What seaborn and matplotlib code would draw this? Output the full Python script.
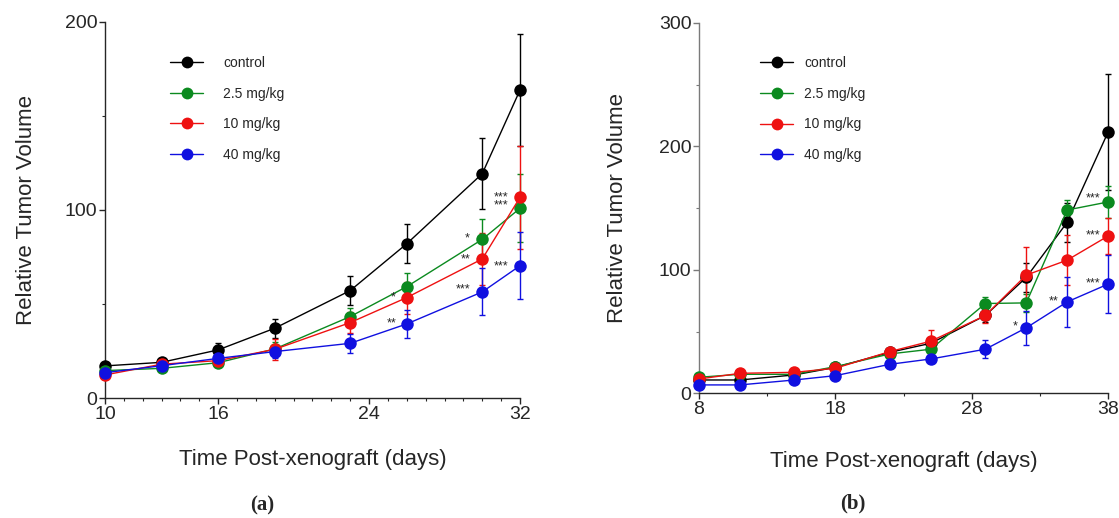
import numpy as np
import pandas as pd
import matplotlib
matplotlib.use("Agg")
import matplotlib.pyplot as plt
from matplotlib.ticker import MultipleLocator, FixedLocator
import seaborn as sns

# datos (a)
days_a = [10, 13, 16, 19, 23, 26, 30, 32]
control_a = [17.2, 19.1, 25.7, 37.2, 57.2, 82.1, 119.3, 163.7]
control_a_err = [1.5, 1.5, 3.5, 5.0, 7.8, 10.4, 19.0, 29.6]
dose25_a = [14.7, 15.9, 18.9, 26.2, 43.4, 59.3, 84.4, 100.9]
dose25_a_err = [1.5, 2.0, 2.0, 3.5, 4.5, 7.0, 10.6, 18.0]
dose10_a = [12.4, 18.1, 20.0, 26.0, 40.2, 53.5, 74.0, 106.7]
dose10_a_err = [1.5, 2.0, 2.5, 5.5, 5.5, 8.5, 14.0, 27.5]
dose40_a = [13.6, 17.3, 21.2, 24.8, 29.2, 39.5, 56.5, 70.4]
dose40_a_err = [1.5, 2.0, 2.5, 3.5, 5.0, 7.6, 12.5, 17.7]

# datos (b)
days_b = [8, 11, 15, 18, 22, 25, 29, 32, 35, 38]
control_b = [10.8, 10.8, 14.9, 21.0, 33.2, 40.5, 63.0, 93.8, 138.4, 211.4]
control_b_err = [1.0, 1.0, 1.5, 2.0, 2.5, 3.0, 5.0, 12.0, 15.5, 47.0]
dose25_b = [13.0, 15.4, 15.4, 21.6, 31.9, 35.7, 72.7, 73.2, 148.4, 154.9]
dose25_b_err = [1.5, 1.5, 1.5, 2.0, 3.0, 4.0, 5.0, 7.0, 8.0, 12.7]
dose10_b = [11.6, 16.2, 17.0, 20.3, 33.8, 42.2, 63.0, 95.7, 107.8, 127.3]
dose10_b_err = [1.5, 2.0, 2.0, 2.0, 3.0, 9.0, 6.0, 23.0, 20.0, 14.6]
dose40_b = [6.8, 6.8, 10.8, 14.3, 23.5, 27.8, 35.7, 53.0, 74.0, 88.4]
dose40_b_err = [1.0, 1.0, 1.5, 1.5, 2.0, 3.0, 7.5, 14.0, 20.0, 23.5]

groups = ["control", "2.5 mg/kg", "10 mg/kg", "40 mg/kg"]
colors = ["#000000", "#0b8a1f", "#ee1111", "#1010e0"]

# asteriscos de significancia
stars_a_x = [29.2, 29.1, 29.0, 31.0, 31.0, 25.3, 25.2]
stars_a_y = [85.0, 74.0, 58.0, 104.5, 70.0, 53.5, 40.0]
stars_a_txt = ["*", "**", "***", "***\n***", "***", "*", "**"]
stars_b_x = [31.2, 34.0, 36.9, 36.9, 36.9]
stars_b_y = [54.0, 74.5, 158.0, 128.0, 89.0]
stars_b_txt = ["*", "**", "***", "***", "***"]


def build_frame(days, series):
    rows = []
    for name, vals in zip(groups, series):
        for d, v in zip(days, vals):
            rows.append({"day": d, "value": v, "group": name})
    return pd.DataFrame(rows)


sns.set_style("ticks")
plt.rcParams["font.family"] = ["Liberation Sans", "DejaVu Sans"]

fig = plt.figure(figsize=(11.19, 5.18), dpi=100)
ax_a = fig.add_axes([0.0938, 0.2311, 0.3709, 0.727])
ax_b = fig.add_axes([0.6247, 0.2407, 0.3655, 0.7154])


def draw_panel(ax, days, series, errs, sx, sy, stxt, xpad, ypad):
    df = build_frame(days, series)
    for name, vals, err, col in zip(groups, series, errs, colors):
        ax.errorbar(days, vals, yerr=err, fmt="none", ecolor=col, elinewidth=1.0,
                    capsize=2.5, capthick=1.0, clip_on=False, zorder=2)
    sns.lineplot(data=df, x="day", y="value", hue="group", hue_order=groups,
                 palette=colors, marker="o", markersize=9, markeredgewidth=0,
                 linewidth=1.0, ax=ax, legend=False, clip_on=False, zorder=3)
    for x, y, t in zip(sx, sy, stxt):
        ax.text(x, y, t, fontsize=9, ha="center", va="center", linespacing=0.55)
    sns.despine(ax=ax)
    ax.tick_params(axis="both", which="major", labelsize=14, length=4, width=1, pad=1.5)
    ax.tick_params(axis="both", which="minor", length=2.5, width=0.8)
    ax.set_xlabel("Time Post-xenograft (days)", fontsize=16, labelpad=xpad)
    ax.set_ylabel("Relative Tumor Volume", fontsize=16, labelpad=ypad)


draw_panel(ax_a, days_a, [control_a, dose25_a, dose10_a, dose40_a],
           [control_a_err, dose25_a_err, dose10_a_err, dose40_a_err],
           stars_a_x, stars_a_y, stars_a_txt, 19, 20)
ax_a.set_xlim(10, 32)
ax_a.set_ylim(0, 200)
ax_a.set_xticks([10, 16, 24, 32])
ax_a.xaxis.set_minor_locator(MultipleLocator(1))
ax_a.set_yticks([0, 100, 200])
ax_a.yaxis.set_minor_locator(FixedLocator([50, 150]))

draw_panel(ax_b, days_b, [control_b, dose25_b, dose10_b, dose40_b],
           [control_b_err, dose25_b_err, dose10_b_err, dose40_b_err],
           stars_b_x, stars_b_y, stars_b_txt, 24, 22)
ax_b.set_xlim(8, 38)
ax_b.set_ylim(0, 300)
ax_b.set_xticks([8, 18, 28, 38])
ax_b.xaxis.set_minor_locator(FixedLocator([13, 23, 33]))
ax_b.set_yticks([0, 100, 200, 300])
ax_b.yaxis.set_minor_locator(FixedLocator([50, 150, 250]))
ax_b.spines["left"].set_color("#7a7a7a")
ax_b.tick_params(axis="y", which="both", color="#7a7a7a")

for ax in (ax_a, ax_b):
    for s in ("left", "bottom"):
        ax.spines[s].set_linewidth(1.0)

# leyendas
handles = [plt.Line2D([], [], color=c, marker="o", markersize=8.5, markeredgewidth=0,
                      linewidth=1.0) for c in colors]
ax_a.legend(handles, groups, loc="upper left", bbox_to_anchor=(0.157, 0.909),
            frameon=False, fontsize=10, handlelength=2.4, handletextpad=1.4,
            labelspacing=1.2, borderpad=0, borderaxespad=0)
ax_b.legend(handles, groups, loc="upper left", bbox_to_anchor=(0.149, 0.91),
            frameon=False, fontsize=10, handlelength=2.4, handletextpad=0.8,
            labelspacing=1.2, borderpad=0, borderaxespad=0)

fig.text(262 / 1119, 1 - 505 / 518, "(a)", fontsize=15, fontweight="bold",
         family=["Liberation Serif", "DejaVu Serif"], ha="center", va="center")
fig.text(853 / 1119, 1 - 503 / 518, "(b)", fontsize=15, fontweight="bold",
         family=["Liberation Serif", "DejaVu Serif"], ha="center", va="center")

fig.savefig("out.png", dpi=100)
